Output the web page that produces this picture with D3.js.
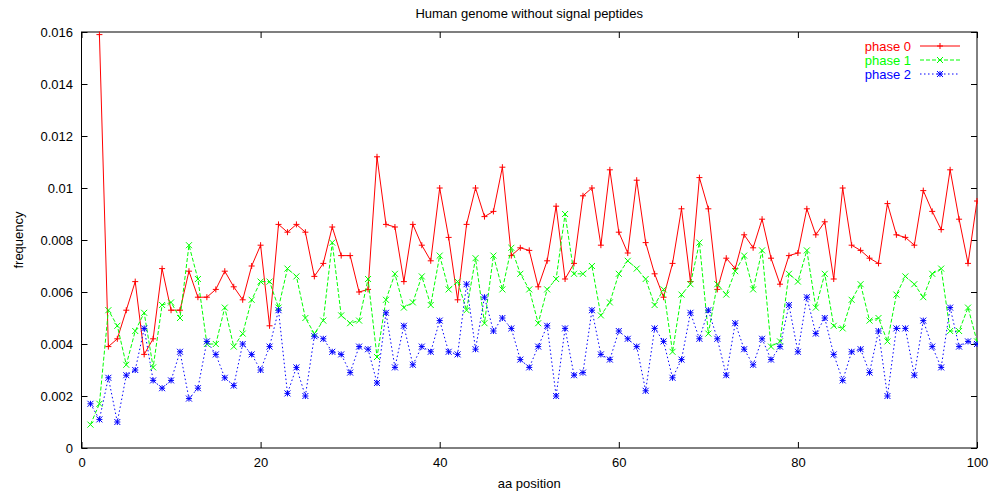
<!DOCTYPE html>
<html>
<head>
<meta charset="utf-8">
<script src="https://cdn.jsdelivr.net/npm/d3@7"></script>
<style>
  body { margin: 0; background: #fff; }
  text { font-family: "Liberation Sans", Arial, sans-serif; font-size: 13px; fill: #000; }
</style>
</head>
<body>
<div class="chart"></div>
<script>
// Human genome without signal peptides - phase frequencies per aa position

var svgWidth = 993;
var svgHeight = 497;

var margin = { top: 32, right: 16, bottom: 49, left: 81.5 };
var width = svgWidth - margin.left - margin.right;
var height = svgHeight - margin.top - margin.bottom;

// phase 0 starts at position 2
var phase0 = [0.0159, 0.0039, 0.0042, 0.0053, 0.0064, 0.0036, 0.0042, 0.0069, 0.0053,
  0.0053, 0.0068, 0.0058, 0.0058, 0.0061, 0.0068, 0.0062, 0.0057, 0.0070, 0.0078,
  0.0047, 0.0086, 0.0083, 0.0086, 0.0083, 0.0066, 0.0071, 0.0085, 0.0074, 0.0074,
  0.0060, 0.0061, 0.0112, 0.0086, 0.0085, 0.0064, 0.0086, 0.0078, 0.0072, 0.0100,
  0.0081, 0.0057, 0.0086, 0.0100, 0.0089, 0.0091, 0.0108, 0.0074, 0.0077, 0.0076,
  0.0062, 0.0072, 0.0093, 0.0065, 0.0071, 0.0097, 0.0100, 0.0078, 0.0107, 0.0083,
  0.0075, 0.0103, 0.0079, 0.0067, 0.0058, 0.0071, 0.0092, 0.0064, 0.0104, 0.0092,
  0.0061, 0.0073, 0.0069, 0.0082, 0.0077, 0.0088, 0.0073, 0.0063, 0.0074, 0.0075,
  0.0092, 0.0082, 0.0087, 0.0065, 0.0100, 0.0078, 0.0076, 0.0073, 0.0071, 0.0094,
  0.0082, 0.0081, 0.0078, 0.0099, 0.0091, 0.0084, 0.0107, 0.0088, 0.0071, 0.0095];

var phase1 = [0.0009, 0.0017, 0.0053, 0.0047, 0.0032, 0.0045, 0.0052, 0.0031, 0.0055, 0.0056,
  0.0050, 0.0078, 0.0065, 0.0040, 0.0040, 0.0054, 0.0039, 0.0044, 0.0057, 0.0064,
  0.0064, 0.0054, 0.0069, 0.0066, 0.0050, 0.0044, 0.0049, 0.0079, 0.0051, 0.0048,
  0.0049, 0.0065, 0.0035, 0.0057, 0.0067, 0.0054, 0.0056, 0.0066, 0.0055, 0.0074,
  0.0061, 0.0064, 0.0053, 0.0073, 0.0048, 0.0074, 0.0061, 0.0077, 0.0067, 0.0061,
  0.0048, 0.0061, 0.0065, 0.0090, 0.0067, 0.0067, 0.0070, 0.0051, 0.0056, 0.0067,
  0.0072, 0.0069, 0.0065, 0.0055, 0.0061, 0.0037, 0.0059, 0.0063, 0.0079, 0.0044,
  0.0063, 0.0059, 0.0068, 0.0074, 0.0061, 0.0076, 0.0039, 0.0041, 0.0067, 0.0064,
  0.0076, 0.0054, 0.0067, 0.0047, 0.0046, 0.0057, 0.0063, 0.0049, 0.0050, 0.0041,
  0.0059, 0.0066, 0.0063, 0.0058, 0.0067, 0.0069, 0.0045, 0.0045, 0.0054, 0.0041];

var phase2 = [0.0017, 0.0011, 0.0027, 0.0010, 0.0028, 0.0030, 0.0046, 0.0026, 0.0023, 0.0026,
  0.0037, 0.0019, 0.0023, 0.0041, 0.0036, 0.0027, 0.0024, 0.0040, 0.0036, 0.0030,
  0.0039, 0.0053, 0.0021, 0.0031, 0.0020, 0.0043, 0.0042, 0.0037, 0.0036, 0.0029,
  0.0039, 0.0038, 0.0025, 0.0052, 0.0031, 0.0047, 0.0032, 0.0039, 0.0037, 0.0049,
  0.0037, 0.0036, 0.0063, 0.0038, 0.0058, 0.0045, 0.0050, 0.0046, 0.0034, 0.0031,
  0.0039, 0.0047, 0.0020, 0.0046, 0.0028, 0.0029, 0.0053, 0.0036, 0.0034, 0.0045,
  0.0042, 0.0039, 0.0022, 0.0046, 0.0041, 0.0027, 0.0034, 0.0052, 0.0042, 0.0053,
  0.0042, 0.0028, 0.0048, 0.0038, 0.0032, 0.0042, 0.0034, 0.0039, 0.0055, 0.0037,
  0.0058, 0.0044, 0.0050, 0.0036, 0.0026, 0.0037, 0.0038, 0.0029, 0.0045, 0.0020,
  0.0046, 0.0046, 0.0028, 0.0049, 0.0039, 0.0031, 0.0054, 0.0039, 0.0041, 0.0040];

var xTicks = [0, 20, 40, 60, 80, 100];
var yTicks = [0, 0.002, 0.004, 0.006, 0.008, 0.01, 0.012, 0.014, 0.016];

var seriesNames = ["phase 0", "phase 1", "phase 2"];
var seriesColors = ["#ff0000", "#00ff00", "#0000ff"];

var series = [
  { name: seriesNames[0], color: seriesColors[0], dash: null, marker: "plus",
    values: phase0.map((v, i) => ({ x: i + 2, y: v })) },
  { name: seriesNames[1], color: seriesColors[1], dash: "4,2", marker: "cross",
    values: phase1.map((v, i) => ({ x: i + 1, y: v })) },
  { name: seriesNames[2], color: seriesColors[2], dash: "1.5,2.5", marker: "star",
    values: phase2.map((v, i) => ({ x: i + 1, y: v })) }
];

var svg = d3.select(".chart")
  .append("svg")
  .attr("width", svgWidth)
  .attr("height", svgHeight);

var chartGroup = svg.append("g")
  .attr("transform", `translate(${margin.left}, ${margin.top})`);

var xScale = d3.scaleLinear().domain([0, 100]).range([0, width]);
var yScale = d3.scaleLinear().domain([0, 0.016]).range([height, 0]);

var fmt = d => String(+d.toFixed(3));

// axes with inward ticks, mirrored on top and right
var axes = [
  chartGroup.append("g").attr("transform", `translate(0, ${height})`)
    .call(d3.axisBottom(xScale).tickValues(xTicks).tickFormat(fmt).tickSize(-6).tickPadding(9.5)),
  chartGroup.append("g")
    .call(d3.axisTop(xScale).tickValues(xTicks).tickFormat("").tickSize(-6)),
  chartGroup.append("g")
    .call(d3.axisLeft(yScale).tickValues(yTicks).tickFormat(fmt).tickSize(-6).tickPadding(8.5)),
  chartGroup.append("g").attr("transform", `translate(${width}, 0)`)
    .call(d3.axisRight(yScale).tickValues(yTicks).tickFormat("").tickSize(-6))
];
axes.forEach(function(a) {
  a.select(".domain").remove();
  a.selectAll("line").attr("stroke", "#000");
  a.selectAll("text").attr("font-family", null).attr("font-size", null);
});

chartGroup.append("rect")
  .attr("width", width)
  .attr("height", height)
  .attr("fill", "none")
  .attr("stroke", "#000");

svg.append("clipPath").attr("id", "plotclip")
  .append("rect")
  .attr("x", -1).attr("y", -1)
  .attr("width", width + 2).attr("height", height + 2);

function markerPath(type, s) {
  var plus = `M${-s},0H${s}M0,${-s}V${s}`;
  var cross = `M${-s},${-s}L${s},${s}M${-s},${s}L${s},${-s}`;
  if (type === "plus") return plus;
  if (type === "cross") return cross;
  return plus + cross;
}

var line = d3.line()
  .x(d => xScale(d.x))
  .y(d => yScale(d.y));

var plotGroup = chartGroup.append("g").attr("clip-path", "url(#plotclip)");

series.forEach(function(s) {
  plotGroup.append("path")
    .datum(s.values)
    .attr("d", line)
    .attr("fill", "none")
    .attr("stroke", s.color)
    .attr("stroke-width", 1)
    .attr("stroke-dasharray", s.dash);

  plotGroup.selectAll(null)
    .data(s.values)
    .enter()
    .append("path")
    .attr("transform", d => `translate(${xScale(d.x)}, ${yScale(d.y)})`)
    .attr("d", markerPath(s.marker, 3))
    .attr("fill", "none")
    .attr("stroke", s.color)
    .attr("stroke-width", 1);
});

// legend, top right
var legend = chartGroup.append("g")
  .attr("transform", `translate(${width - 66}, 14)`);

series.forEach(function(s, i) {
  var row = legend.append("g").attr("transform", `translate(0, ${i * 14})`);
  row.append("text")
    .attr("x", 0)
    .attr("dy", "0.35em")
    .attr("text-anchor", "end")
    .style("fill", s.color)
    .text(s.name);
  row.append("line")
    .attr("x1", 9).attr("x2", 49)
    .attr("stroke", s.color)
    .attr("stroke-dasharray", s.dash);
  row.append("path")
    .attr("transform", "translate(29, 0)")
    .attr("d", markerPath(s.marker, 3))
    .attr("fill", "none")
    .attr("stroke", s.color);
});

// title and axis labels
svg.append("text")
  .attr("x", margin.left + width / 2)
  .attr("y", 13)
  .attr("dy", "0.35em")
  .attr("text-anchor", "middle")
  .text("Human genome without signal peptides");

svg.append("text")
  .attr("x", margin.left + width / 2)
  .attr("y", 483)
  .attr("dy", "0.35em")
  .attr("text-anchor", "middle")
  .text("aa position");

svg.append("text")
  .attr("transform", `translate(18, ${margin.top + height / 2}) rotate(-90)`)
  .attr("dy", "0.35em")
  .attr("text-anchor", "middle")
  .text("frequency");
</script>
</body>
</html>
